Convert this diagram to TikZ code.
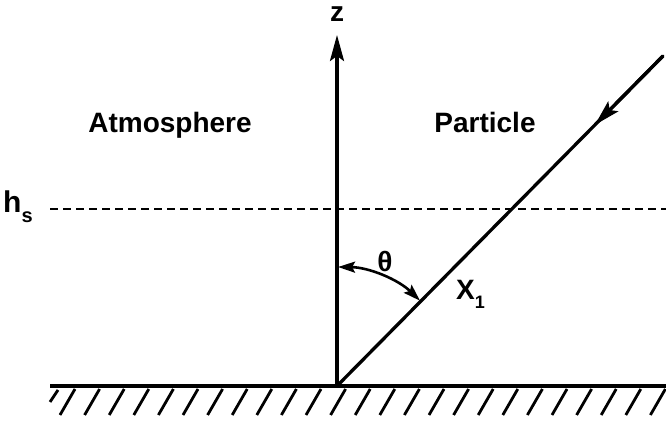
\documentclass[tikz,border=0pt]{standalone}
\usepackage{fontspec}
\setmainfont{Liberation Sans}
\usetikzlibrary{arrows.meta,calc}
\begin{document}
\begin{tikzpicture}[x=1pt,y=1pt,
  lbl/.style={inner sep=0pt,anchor=base,font=\fontsize{28}{34}\selectfont\bfseries},
  mainline/.style={line width=3.3pt},
  hatchline/.style={line width=2.8pt},
  bigtip/.style={-{Stealth[length=26pt,width=14pt,inset=5pt]}},
  arctips/.style={{Stealth[length=17pt,width=11pt,inset=3pt]}-{Stealth[length=17pt,width=11pt,inset=3pt]}}
]
\useasboundingbox (0,0) rectangle (666,425);
% key points
\coordinate (O) at (337,39);
\coordinate (ztop) at (337,390);
\coordinate (D) at (663,369);
\coordinate (P) at ($(O)!0.791!(D)$);
\coordinate (gL) at (50,39);
\coordinate (gR) at (666,39);
\coordinate (hL) at (50,216);
\coordinate (hR) at (666,216);
% ground and hatching
\draw[mainline] (gL) -- (gR);
\foreach \k in {0,...,24}{
  \draw[hatchline] ({75+24.6*\k},36) -- ({60+24.6*\k},10);
}
\draw[hatchline] (50,23) -- (58,35);
% z axis
\draw[mainline,bigtip] (O) -- (ztop);
\node[lbl] (z) at (337,403) {z};
% particle track
\draw[mainline,line cap=round] (O) -- (D);
\draw[mainline,bigtip] (D) -- (P);
% source height
\draw[line width=2.4pt,dash pattern=on 8pt off 5pt] (hL) -- (hR);
\node[lbl,anchor=base west,font=\fontsize{30}{36}\selectfont\bfseries] (hs) at (3,212) {h\raisebox{-0.33em}{\fontsize{20}{20}\selectfont\bfseries s}};
% angle
\draw[line width=2.6pt,arctips] ([shift={(89.5:119)}]O) arc (89.5:45.8:119);
\node[lbl] (theta) at (385,153) {θ};
\node[lbl,anchor=base west] (x1) at (456,125) {X\raisebox{-0.3em}{\fontsize{18}{18}\selectfont\bfseries 1}};
% region labels
\node[lbl] (atm) at (170,292) {Atmosphere};
\node[lbl] (par) at (485,292) {Particle};
\end{tikzpicture}
\end{document}
